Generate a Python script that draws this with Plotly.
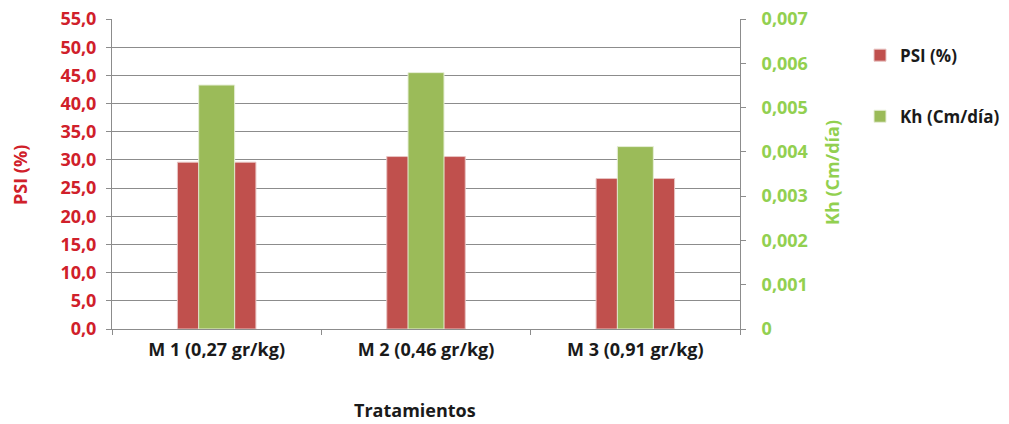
import plotly.graph_objects as go

categories = ["M 1 (0,27 gr/kg)", "M 2 (0,46 gr/kg)", "M 3 (0,91 gr/kg)"]
psi_values = [29.6, 30.6, 26.7]
kh_values = [0.00551, 0.00579, 0.00412]
left_ticks = [0, 5, 10, 15, 20, 25, 30, 35, 40, 45, 50, 55]
right_ticks = [0, 0.001, 0.002, 0.003, 0.004, 0.005, 0.006, 0.007]
right_tick_text = ["0", "0,001", "0,002", "0,003", "0,004", "0,005", "0,006", "0,007"]

RED = "#C0504D"
GREEN = "#9BBB59"
FONT = "Open Sans"
FS = 18
GRID = "#8C8C8C"
DARK = "#1a1a1a"

W, H = 1009, 424
L, T = 112, 19
R = W - 740
B = H - 329
PW, PH = W - L - R, H - T - B


def px_x(x):
    return (x - L) / PW


def px_y(y):
    return (H - B - y) / PH


fig = go.Figure()
fig.add_trace(go.Bar(
    x=categories, y=psi_values, name="PSI (%)", yaxis="y",
    marker=dict(color=RED, line=dict(color="#E8C4C3", width=1)),
    width=0.375, legendgroup="a",
))
fig.add_trace(go.Bar(
    x=categories, y=kh_values, name="Kh (Cm/día)", yaxis="y2",
    marker=dict(color=GREEN, line=dict(color="#E6EED6", width=1)),
    width=0.172, legendgroup="b",
))

fig.update_layout(
    width=W, height=H,
    margin=dict(l=L, r=R, t=T, b=B, autoexpand=False),
    paper_bgcolor="white", plot_bgcolor="white",
    barmode="overlay",
    separators=",.",
    font=dict(family=FONT, size=FS, color=DARK),
    xaxis=dict(
        type="category", automargin=False,
        showline=True, linecolor=GRID, linewidth=1,
        ticks="outside", tickson="boundaries", ticklen=5, tickcolor=GRID,
        ticklabelstandoff=4,
        tickfont=dict(family=FONT, size=FS, color=DARK, weight="bold"),
        showgrid=False,
    ),
    yaxis=dict(
        range=[0, 55.01], tickvals=left_ticks, tickformat=".1f", automargin=False,
        showline=True, linecolor=GRID, linewidth=1,
        ticks="outside", ticklen=5, tickcolor=GRID,
        ticklabelstandoff=6,
        showgrid=True, gridcolor=GRID, gridwidth=1,
        tickfont=dict(family=FONT, size=FS, color="#D0202A", weight="bold"),
        zeroline=False,
    ),
    yaxis2=dict(
        range=[0, 0.0070013], overlaying="y", side="right", automargin=False,
        tickvals=right_ticks, ticktext=right_tick_text,
        showline=True, linecolor=GRID, linewidth=1,
        ticks="outside", ticklen=5, tickcolor=GRID,
        ticklabelstandoff=12,
        showgrid=False, zeroline=False,
        tickfont=dict(family=FONT, size=FS, color="#92D050", weight="bold"),
    ),
    legend=dict(
        x=px_x(860), y=0.94, xanchor="left", yanchor="top",
        traceorder="grouped", tracegroupgap=36,
        font=dict(family=FONT, size=17, color=DARK, weight="bold"),
        bgcolor="rgba(0,0,0,0)",
    ),
    annotations=[
        dict(text="<b>PSI (%)</b>", xref="paper", yref="paper",
             x=px_x(20), y=px_y(175), textangle=-90,
             xanchor="center", yanchor="middle",
             showarrow=False, font=dict(family=FONT, size=FS, color="#D0202A")),
        dict(text="<b>Kh (Cm/día)</b>", xref="paper", yref="paper",
             x=px_x(832), y=px_y(173), textangle=-90,
             xanchor="center", yanchor="middle",
             showarrow=False, font=dict(family=FONT, size=FS, color="#92D050")),
        dict(text="<b>Tratamientos</b>", xref="paper", yref="paper",
             x=px_x(415), y=px_y(410),
             xanchor="center", yanchor="middle",
             showarrow=False, font=dict(family=FONT, size=FS, color=DARK)),
    ],
)

fig.write_html("out.html", config={"displayModeBar": False},
               post_script="document.body.style.margin='0';")
